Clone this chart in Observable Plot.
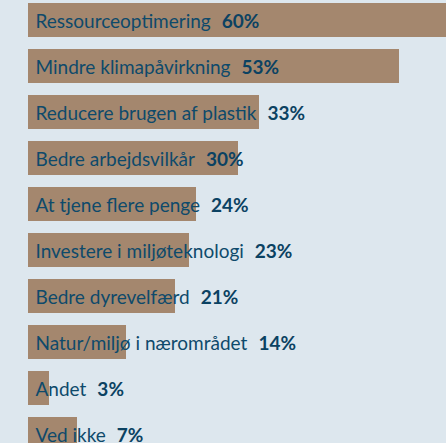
<!DOCTYPE html>
<html>
<head>
<meta charset="utf-8">
<script src="https://cdn.jsdelivr.net/npm/d3@7"></script>
<script src="https://cdn.jsdelivr.net/npm/@observablehq/plot@0.6"></script>
<style>
  html, body { margin: 0; padding: 0; background: #dde7ee; }
  #chart { width: 446px; height: 443px; overflow: hidden; }
</style>
</head>
<body>
<div id="chart"></div>
<script>
const categories = [
  "Ressourceoptimering",
  "Mindre klimapåvirkning",
  "Reducere brugen af plastik",
  "Bedre arbejdsvilkår",
  "At tjene flere penge",
  "Investere i miljøteknologi",
  "Bedre dyrevelfærd",
  "Natur/miljø i nærområdet",
  "Andet",
  "Ved ikke"
];
const values = [60, 53, 33, 30, 24, 23, 21, 14, 3, 7];

const data = categories.map((c, i) => ({label: c, value: values[i]}));

const FONT = "Lato, 'Open Sans', sans-serif";
const TEXT = "#0e4a6b";

const chart = Plot.plot({
  width: 446,
  height: 443,
  margin: 0,
  style: {background: "#dde7ee", fontFamily: FONT, overflow: "hidden"},
  x: {domain: [0, 100], range: [28, 728], axis: null},
  y: {domain: categories, range: [-3, 457], paddingInner: 0.26, paddingOuter: 0.13, axis: null},
  marks: [
    Plot.barX(data, {y: "label", x: "value", fill: "#a4876e"}),
    Plot.text(data, {
      y: "label", x: 0, text: "label",
      textAnchor: "start", dx: 7, dy: 1,
      fill: TEXT, fontSize: 19,
      className: "lbl"
    })
  ]
});
document.getElementById("chart").appendChild(chart);

// append bold percentage after each label
d3.select(chart).selectAll("g.lbl text").each(function(d, i) {
  const t = d3.select(this);
  const v = values[i];
  t.append("tspan").attr("dx", 11).attr("font-weight", "bold").attr("fill", "#0b4262").text(v + "%");
});
</script>
</body>
</html>
